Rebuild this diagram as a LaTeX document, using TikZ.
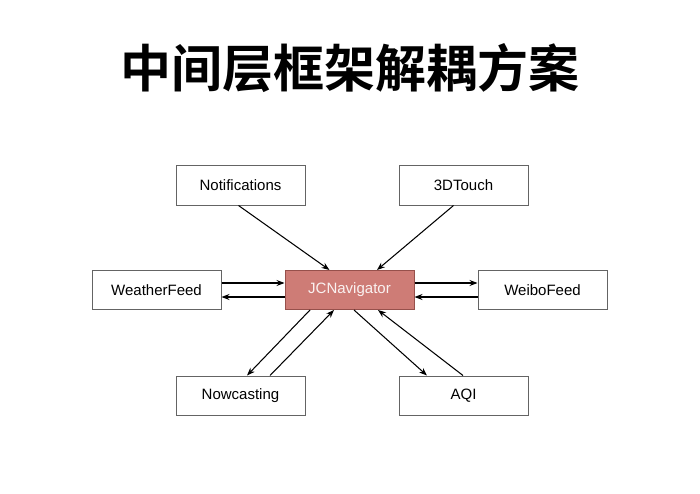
\documentclass[tikz,border=0pt]{standalone}
\usepackage{fontspec}
\setmainfont{Liberation Sans}
\newfontfamily\cjk{Noto Sans CJK SC}[BoldFont={Noto Sans CJK SC Bold}]
\usetikzlibrary{arrows.meta}
\definecolor{navfill}{RGB}{206,124,118}
\definecolor{navdraw}{RGB}{150,80,75}
\definecolor{boxdraw}{RGB}{100,100,100}
\begin{document}
\begin{tikzpicture}[x=1pt,y=1pt,
  box/.style={draw=boxdraw,line width=1pt,fill=white,minimum width=129pt,minimum height=39pt,inner sep=0pt,font=\fontsize{15}{17}\selectfont},
  navbox/.style={box,fill=navfill,draw=navdraw,text=white!90!navfill},
  conn/.style={line width=1.05pt,-{Stealth[length=8pt,width=6pt]}}]
\useasboundingbox (0,0) rectangle (700,-494);
\fill[white] (0,0) rectangle (700,-494);
\node (title) at (350,-68) {\cjk\bfseries\fontsize{51}{60}\selectfont 中间层框架解耦方案};
\node[box] (notif) at (240.5,-185.5) {Notifications};
\node[box] (touch) at (463.5,-185.5) {3DTouch};
\node[box] (wf) at (156.5,-290) {WeatherFeed};
\node[navbox] (jc) at (349.5,-290) {JCNavigator};
\node[box] (wb) at (542.5,-290) {WeiboFeed};
\node[box] (now) at (240.5,-395.5) {Nowcasting};
\node[box] (aqi) at (463.5,-395.5) {AQI};
\draw[conn] ([xshift=-2pt]notif.south) -- ([xshift=-20pt]jc.north);
\draw[conn] ([xshift=-10pt]touch.south) -- ([xshift=27.5pt]jc.north);
\draw[conn] ([yshift=7pt]wf.east) -- ([yshift=7pt]jc.west);
\draw[conn] ([yshift=-7pt]jc.west) -- ([yshift=-7pt]wf.east);
\draw[conn] ([yshift=7pt]jc.east) -- ([yshift=7pt]wb.west);
\draw[conn] ([yshift=-7pt]wb.west) -- ([yshift=-7pt]jc.east);
\draw[conn] ([xshift=-39.5pt]jc.south) -- ([xshift=6.5pt]now.north);
\draw[conn] ([xshift=29.5pt]now.north) -- ([xshift=-15.5pt]jc.south);
\draw[conn] ([xshift=4.5pt]jc.south) -- ([xshift=-36.5pt]aqi.north);
\draw[conn] ([xshift=-0.5pt]aqi.north) -- ([xshift=28.5pt]jc.south);
\end{tikzpicture}
\end{document}
